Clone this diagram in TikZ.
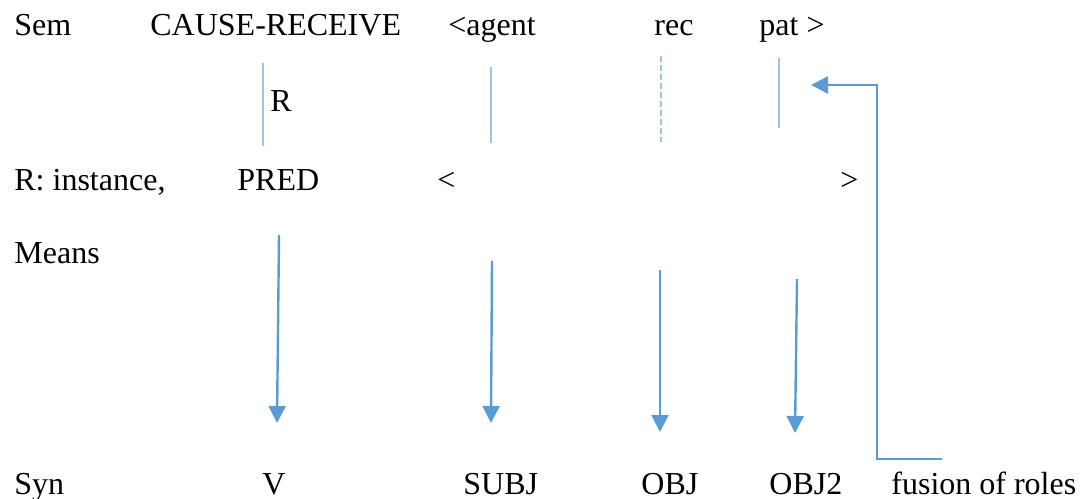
\documentclass[tikz,border=0pt]{standalone}
\usepackage{fontspec}
\setmainfont{Liberation Serif}
\usetikzlibrary{arrows.meta}
\definecolor{linkblue}{HTML}{5B9BD5}
\definecolor{paleblue}{HTML}{9DC3E6}
\begin{document}
\begin{tikzpicture}[x=0.5pt,y=-0.5pt,
  lbl/.style={anchor=base west,inner sep=0pt,font=\fontsize{16}{19}\selectfont},
  link/.style={paleblue,line width=0.7pt},
  maparrow/.style={linkblue,line width=1.2pt,-{Triangle[length=8.5pt,width=8.5pt]}}]
\useasboundingbox (0,0) rectangle (1081,498);

% semantic row
\node[lbl] (sem)   at (14,35)  {Sem};
\node[lbl] (cause) at (150,35) {CAUSE-RECEIVE};
\node[lbl] (agent) at (448,35) {<agent};
\node[lbl] (rec)   at (654,35) {rec};
\node[lbl] (pat)   at (759,35) {pat >};

% relation label
\node[lbl] (rel) at (270,111) {R};

% instance row
\node[lbl] (inst) at (14,190)  {R: instance,};
\node[lbl] (pred) at (237,190) {PRED};
\node[lbl] (lt)   at (437,190) {<};
\node[lbl] (gt)   at (840,190) {>};

% means row
\node[lbl] (means) at (14,263) {Means};

% syntactic row
\node[lbl] (syn)  at (14,494)  {Syn};
\node[lbl] (v)    at (262,494) {V};
\node[lbl] (subj) at (463,494) {SUBJ};
\node[lbl] (obj)  at (641,494) {OBJ};
\node[lbl] (objb) at (769,494) {OBJ2};
\node[lbl] (fus)  at (891,494) {fusion of roles};

% role links between Sem and PRED rows
\coordinate (ca) at (263,63);  \coordinate (cb) at (263,146);
\coordinate (aa) at (491,67);  \coordinate (ab) at (491,143);
\coordinate (ra) at (661,56);  \coordinate (rb) at (661,142);
\coordinate (pa) at (779,58);  \coordinate (pb) at (779,128);
\draw[link] (ca) -- (cb);
\draw[link] (aa) -- (ab);
\draw[link,dash pattern=on 3pt off 1.5pt] (ra) -- (rb);
\draw[link] (pa) -- (pb);

% mapping arrows down to Syn
\coordinate (va) at (279,235);   \coordinate (vb) at (277,423);
\coordinate (sa) at (492,261);   \coordinate (sb) at (491,423);
\coordinate (oa) at (660,270);   \coordinate (ob) at (660,432);
\coordinate (qa) at (797,279);   \coordinate (qb) at (795,433);
\draw[maparrow] (va) -- (vb);
\draw[maparrow] (sa) -- (sb);
\draw[maparrow] (oa) -- (ob);
\draw[maparrow] (qa) -- (qb);

% fusion of roles
\coordinate (fs) at (942,459);
\coordinate (fc) at (877,459);
\coordinate (ft) at (811,85);
\draw[maparrow] (fs) -- (fc) |- (ft);
\end{tikzpicture}
\end{document}
